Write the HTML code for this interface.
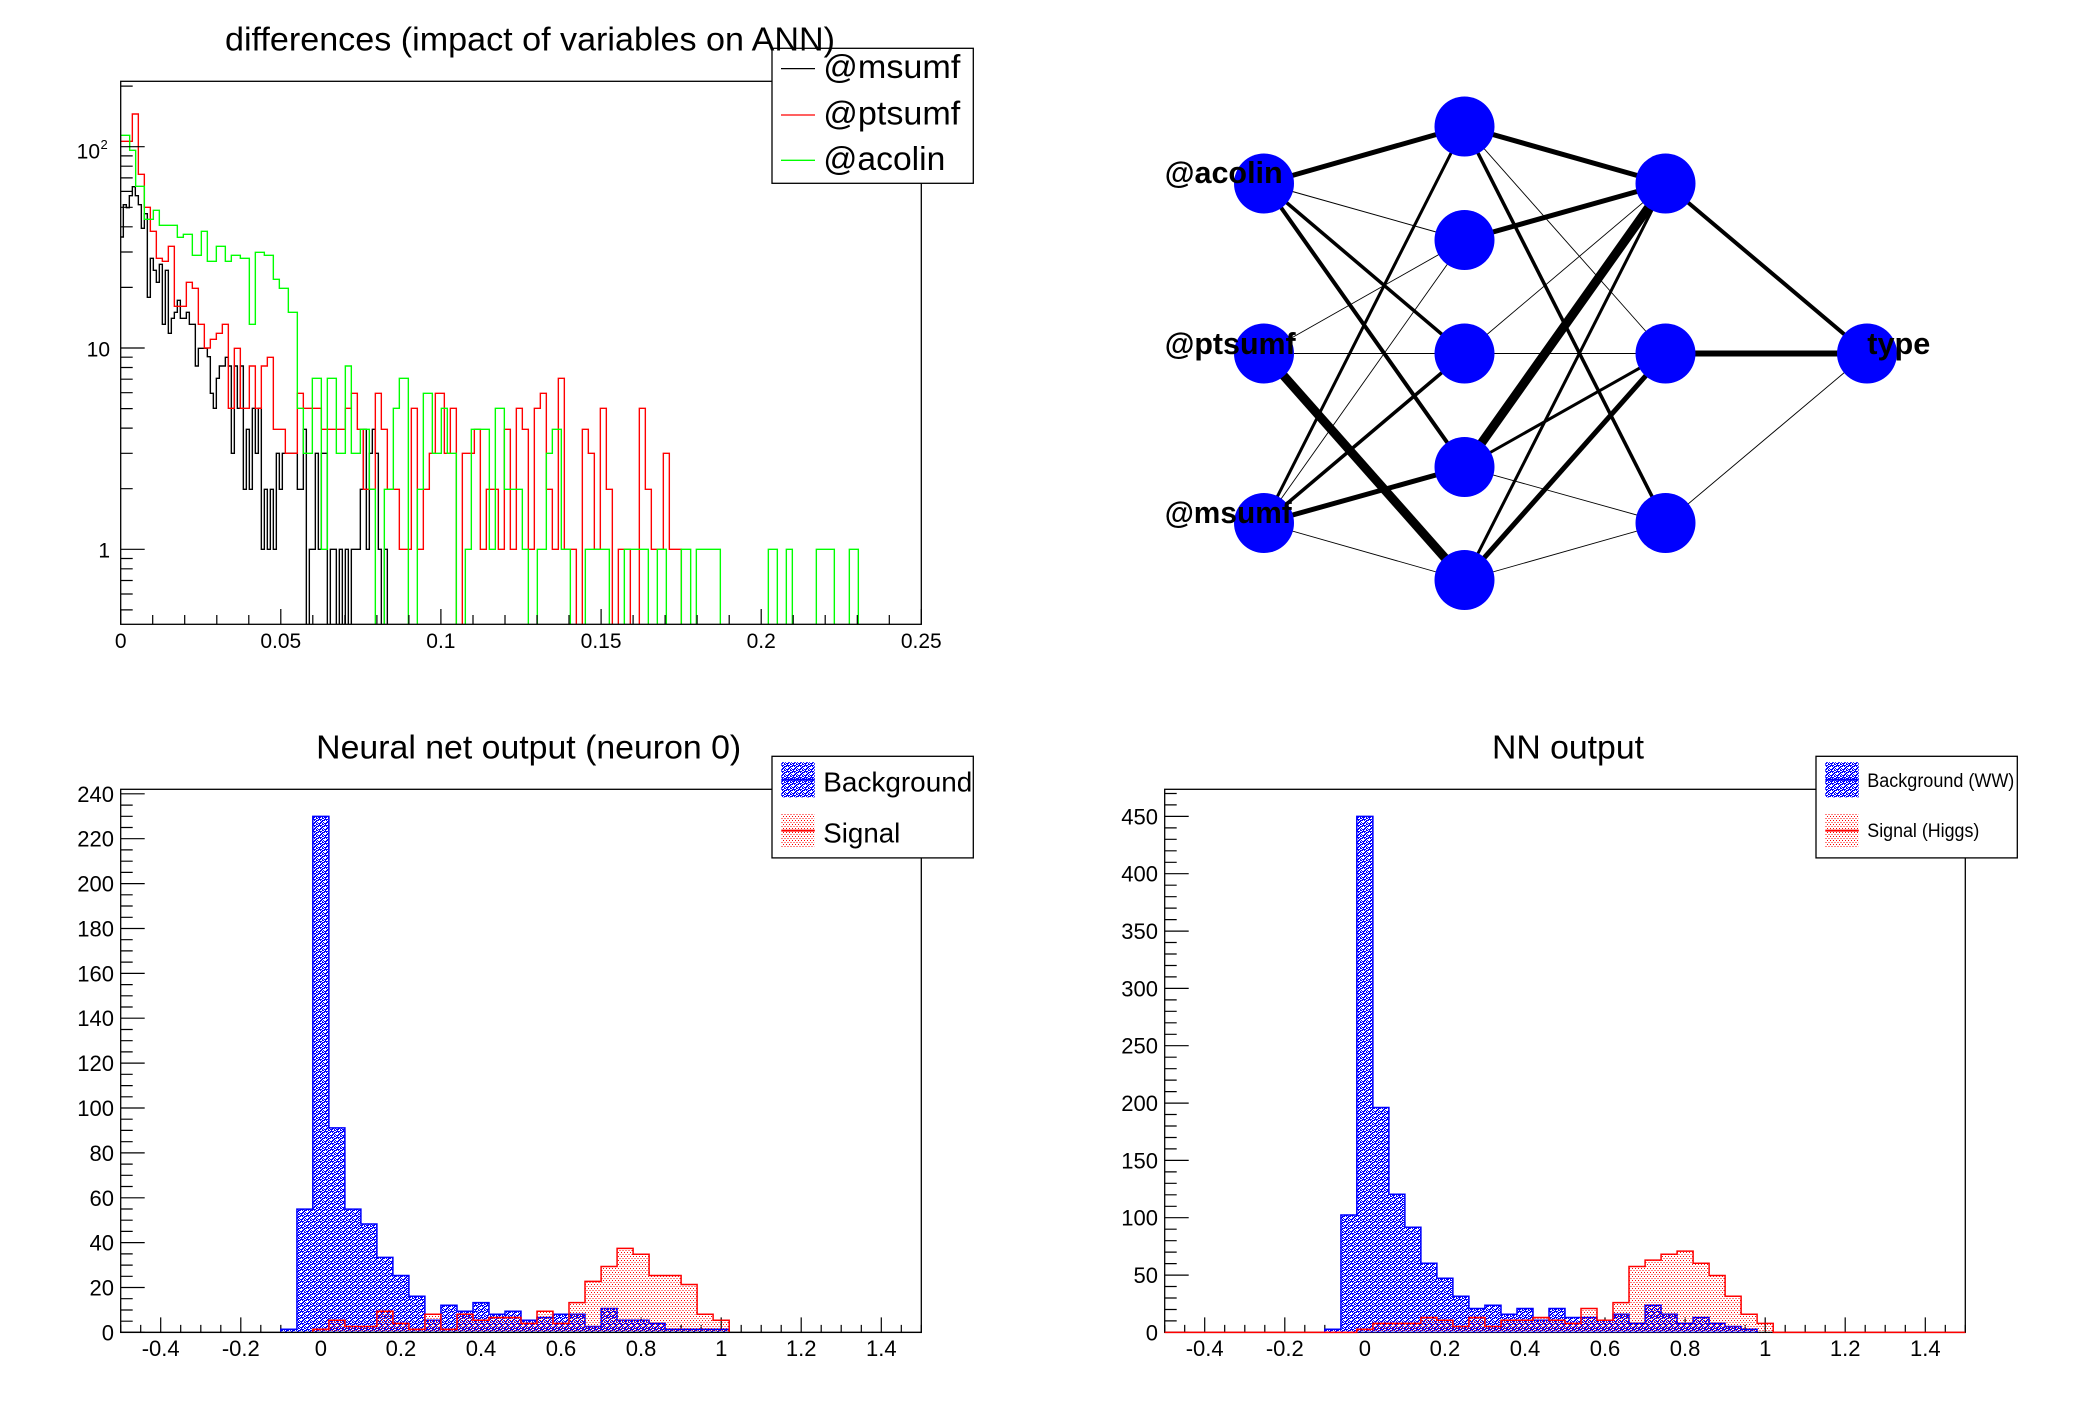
<!DOCTYPE html>
<html><head><meta charset="utf-8"><style>html,body{margin:0;padding:0;background:#fff}svg{display:block}</style></head>
<body>
<svg width="2088" height="1416" viewBox="0 0 2088 1416" xmlns="http://www.w3.org/2000/svg" font-family="'Liberation Sans', Arial, sans-serif">
<defs>
<pattern id="pb" width="6" height="6" patternUnits="userSpaceOnUse">
<rect width="6" height="6" fill="#0000ff"/>
<path d="M0,0h2v1h-2z M3,1h1v2h-1z M4,3h2v1h-2z M1,4h1v2h-1z M2,2h1v1h-1z M5,5h1v1h-1z M0,2h1v1h-1z M2,5h1v1h-1z M4,0h1v1h-1z M5,1h1v1h-1z M0,5h1v1h-1z M3,4h1v1h-1z" fill="#fff"/>
</pattern>
<pattern id="pr" width="6" height="4" patternUnits="userSpaceOnUse">
<path d="M0,0h1v1h-1z M3,0h1v1h-1z M1.5,2h1v1h-1z M4.5,2h1v1h-1z" fill="#ff0000"/>
</pattern>
<clipPath id="c1"><rect x="120.7" y="81.3" width="800.6" height="543"/></clipPath>
<clipPath id="c2"><rect x="120.7" y="789.3" width="800.6" height="543.1"/></clipPath>
<clipPath id="c3"><rect x="1164.7" y="789.3" width="800.6" height="543.1"/></clipPath>
</defs>
<rect width="2088" height="1416" fill="#fff"/>

<!-- ============ TOP LEFT ============ -->
<g clip-path="url(#c1)">
<g transform="translate(118,330) scale(0.333333)" fill="none" stroke-width="1.4">
<path vector-effect="non-scaling-stroke" stroke="#000" d="M7,-279H16V-376H25V-367H34V-403H43V-430H52V-403H61V-376H70V-305H79V-349H88V-98H97V-215H106V-179H115V-143H124V-197H133V-17H142V-179H151V10H160V-35H169V-53H178V-89H187V-35H205V-53H214V-17H232V108H241V55H268V80H277V190H286V235H295V145H304V108H322V82H331V108H340V370H349V108H358V235H367V108H376V478H385V298H394V478H403V235H412V370H421V235H430V658H439V478H448V658H457V478H466V658H475V370H484V478H493V370H538V478H556V298H565V895H574V658H592V370H601V658H610V370H628V895H637V658H655V895H664V658H673V895H682V658H691V895H700V658H727V478H736V298H745V658H754V370H763V298H772V370H781V658H790V895H799V658H808V895H2420"/>
<path vector-effect="non-scaling-stroke" stroke="#ff0000" d="M7,-566H43V-648H61V-467H79V-368H97V-296H115V-215H133V-206H151V-251H169V-71H205V-143H223V-125H241V-17H259V54H277V28H295V10H313V-17H331V235H349V55H367V235H394V108H412V235H430V108H448V82H466V298H502V370H538V190H556V235H610V298H682V235H700V190H718V298H736V478H772V190H790V298H808V478H844V658H880V235H898V658H916V478H934V370H952V190H979V370H997V235H1015V895H1033V370H1069V298H1087V658H1105V478H1141V658H1159V298H1177V658H1195V235H1213V298H1231V658H1249V235H1267V190H1285V478H1303V658H1321V145H1339V658H1375V895H1393V298H1411V370H1429V658H1447V235H1465V478H1483V895H1501V658H1537V895H1564V235H1582V478H1600V658H1636V370H1654V658H1690V895H2420"/>
<path vector-effect="non-scaling-stroke" stroke="#00ff00" d="M7,-584H35V-539H53V-431H79V-332H106V-359H124V-314H178V-278H196V-287H223V-224H250V-296H268V-206H295V-251H322V-206H340V-224H367V-215H394V-17H412V-233H439V-224H466V-152H484V-125H511V-53H538V235H556V370H583V145H610V658H628V145H655V370H682V108H700V370H727V298H754V478H772V895H799V478H826V235H844V145H871V895H898V478H916V190H943V370H970V235H988V370H1015V895H1042V658H1060V298H1114V658H1132V235H1159V478H1213V658H1231V895H1258V658H1285V370H1303V298H1330V658H1357V895H1402V658H1474V895H1519V658H1591V895H1618V658H1645V895H1690V658H1718V895H1735V658H1807V895H1951V658H1978V895H2005V658H2023V895H2095V658H2149V895H2194V658H2221V895H2420"/>
</g>
</g>
<rect x="120.7" y="81.3" width="800.6" height="543" fill="none" stroke="#000" stroke-width="1.3"/>
<path fill="none" stroke="#000" stroke-width="1.2" d="M120.7,624.3v-15.3M152.7,624.3v-9.3M184.7,624.3v-9.3M216.8,624.3v-9.3M248.8,624.3v-9.3M280.8,624.3v-15.3M312.8,624.3v-9.3M344.9,624.3v-9.3M376.9,624.3v-9.3M408.9,624.3v-9.3M440.9,624.3v-15.3M473,624.3v-9.3M505,624.3v-9.3M537,624.3v-9.3M569,624.3v-9.3M601.1,624.3v-15.3M633.1,624.3v-9.3M665.1,624.3v-9.3M697.1,624.3v-9.3M729.2,624.3v-9.3M761.2,624.3v-15.3M793.2,624.3v-9.3M825.2,624.3v-9.3M857.3,624.3v-9.3M889.3,624.3v-9.3M921.3,624.3v-15.3
M120.7,609.9h12M120.7,594h12M120.7,580.5h12M120.7,568.8h12M120.7,558.5h12M120.7,549.3h24M120.7,488.7h12M120.7,453.3h12M120.7,428.1h12M120.7,408.6h12M120.7,392.7h12M120.7,379.2h12M120.7,367.5h12M120.7,357.2h12M120.7,348h24M120.7,287.4h12M120.7,252h12M120.7,226.8h12M120.7,207.3h12M120.7,191.4h12M120.7,177.9h12M120.7,166.2h12M120.7,155.9h12M120.7,146.7h24M120.7,86.1h12"/>
<g font-size="21" fill="#000" text-anchor="middle">
<text x="120.7" y="648">0</text>
<text x="280.8" y="648">0.05</text>
<text x="440.9" y="648">0.1</text>
<text x="601.1" y="648">0.15</text>
<text x="761.2" y="648">0.2</text>
<text x="921.3" y="648">0.25</text>
</g>
<g font-size="21" fill="#000" text-anchor="end">
<text x="100" y="158.5">10</text>
<text x="110" y="356.7">10</text>
<text x="110" y="557.6">1</text>
</g>
<text x="100.5" y="149" font-size="13" fill="#000">2</text>
<!-- legend TL -->
<rect x="772" y="48.3" width="201.3" height="135" fill="#fff" stroke="#000" stroke-width="1.3"/>
<path d="M781,68.6h34" stroke="#000" stroke-width="1.3"/>
<path d="M781,115h34" stroke="#ff0000" stroke-width="1.3"/>
<path d="M781,160.3h34" stroke="#00ff00" stroke-width="1.3"/>
<g font-size="33" fill="#000">
<text x="823.3" y="78" textLength="137" lengthAdjust="spacingAndGlyphs">@msumf</text>
<text x="823.3" y="124.5" textLength="137" lengthAdjust="spacingAndGlyphs">@ptsumf</text>
<text x="823.3" y="169.8" textLength="122" lengthAdjust="spacingAndGlyphs">@acolin</text>
</g>
<text x="530" y="50.5" font-size="33" fill="#000" text-anchor="middle" textLength="610" lengthAdjust="spacingAndGlyphs">differences (impact of variables on ANN)</text>

<!-- ============ TOP RIGHT (NN) ============ -->
<g stroke="#000" stroke-linecap="butt">
<line x1="1264" y1="183.5" x2="1464.5" y2="126.5" stroke-width="5"/>
<line x1="1264" y1="183.5" x2="1464.5" y2="240" stroke-width="1"/>
<line x1="1264" y1="183.5" x2="1464.5" y2="353.5" stroke-width="3.5"/>
<line x1="1264" y1="183.5" x2="1464.5" y2="467" stroke-width="4"/>
<line x1="1264" y1="353.5" x2="1464.5" y2="240" stroke-width="0.9"/>
<line x1="1264" y1="353.5" x2="1464.5" y2="353.5" stroke-width="0.9"/>
<line x1="1264" y1="353.5" x2="1464.5" y2="580" stroke-width="9"/>
<line x1="1264" y1="523" x2="1464.5" y2="126.5" stroke-width="3"/>
<line x1="1264" y1="523" x2="1464.5" y2="240" stroke-width="0.9"/>
<line x1="1264" y1="523" x2="1464.5" y2="353.5" stroke-width="3.5"/>
<line x1="1264" y1="523" x2="1464.5" y2="467" stroke-width="5"/>
<line x1="1264" y1="523" x2="1464.5" y2="580" stroke-width="0.9"/>
<line x1="1464.5" y1="126.5" x2="1665.5" y2="183.5" stroke-width="5"/>
<line x1="1464.5" y1="126.5" x2="1665.5" y2="353.5" stroke-width="0.9"/>
<line x1="1464.5" y1="126.5" x2="1665.5" y2="523" stroke-width="3.5"/>
<line x1="1464.5" y1="240" x2="1665.5" y2="183.5" stroke-width="5"/>
<line x1="1464.5" y1="353.5" x2="1665.5" y2="183.5" stroke-width="0.9"/>
<line x1="1464.5" y1="353.5" x2="1665.5" y2="353.5" stroke-width="0.9"/>
<line x1="1464.5" y1="467" x2="1665.5" y2="183.5" stroke-width="9"/>
<line x1="1464.5" y1="467" x2="1665.5" y2="353.5" stroke-width="3"/>
<line x1="1464.5" y1="467" x2="1665.5" y2="523" stroke-width="0.9"/>
<line x1="1464.5" y1="580" x2="1665.5" y2="183.5" stroke-width="3"/>
<line x1="1464.5" y1="580" x2="1665.5" y2="353.5" stroke-width="5"/>
<line x1="1464.5" y1="580" x2="1665.5" y2="523" stroke-width="0.9"/>
<line x1="1665.5" y1="183.5" x2="1867" y2="353.5" stroke-width="4"/>
<line x1="1665.5" y1="353.5" x2="1867" y2="353.5" stroke-width="6"/>
<line x1="1665.5" y1="523" x2="1867" y2="353.5" stroke-width="0.9"/>
</g>
<g fill="#0000ff">
<circle cx="1264" cy="183.5" r="30"/>
<circle cx="1264" cy="353.5" r="30"/>
<circle cx="1264" cy="523" r="30"/>
<circle cx="1464.5" cy="126.5" r="30"/>
<circle cx="1464.5" cy="240" r="30"/>
<circle cx="1464.5" cy="353.5" r="30"/>
<circle cx="1464.5" cy="467" r="30"/>
<circle cx="1464.5" cy="580" r="30"/>
<circle cx="1665.5" cy="183.5" r="30"/>
<circle cx="1665.5" cy="353.5" r="30"/>
<circle cx="1665.5" cy="523" r="30"/>
<circle cx="1867" cy="353.5" r="30"/>
</g>
<g font-size="30.5" font-weight="bold" fill="#000">
<text x="1164.7" y="183" textLength="118" lengthAdjust="spacingAndGlyphs">@acolin</text>
<text x="1164.7" y="354" textLength="131" lengthAdjust="spacingAndGlyphs">@ptsumf</text>
<text x="1164.7" y="523" textLength="127" lengthAdjust="spacingAndGlyphs">@msumf</text>
<text x="1867.3" y="354" textLength="63" lengthAdjust="spacingAndGlyphs">type</text>
</g>

<!-- ============ BOTTOM LEFT ============ -->
<rect x="120.7" y="789.3" width="800.6" height="543.1" fill="none" stroke="#000" stroke-width="1.3"/>
<g id="xt">
<path fill="none" stroke="#000" stroke-width="1.2" d="M120.7,1332.4v-7.5M140.7,1332.4v-7.5M160.7,1332.4v-15M180.7,1332.4v-7.5M200.8,1332.4v-7.5M220.8,1332.4v-7.5M240.8,1332.4v-15M260.8,1332.4v-7.5M280.8,1332.4v-7.5M300.8,1332.4v-7.5M320.9,1332.4v-15M340.9,1332.4v-7.5M360.9,1332.4v-7.5M380.9,1332.4v-7.5M400.9,1332.4v-15M420.9,1332.4v-7.5M441,1332.4v-7.5M461,1332.4v-7.5M481,1332.4v-15M501,1332.4v-7.5M521,1332.4v-7.5M541,1332.4v-7.5M561,1332.4v-15M581,1332.4v-7.5M601.1,1332.4v-7.5M621.1,1332.4v-7.5M641.1,1332.4v-15M661.1,1332.4v-7.5M681.1,1332.4v-7.5M701.1,1332.4v-7.5M721.2,1332.4v-15M741.2,1332.4v-7.5M761.2,1332.4v-7.5M781.2,1332.4v-7.5M801.2,1332.4v-15M821.2,1332.4v-7.5M841.2,1332.4v-7.5M861.3,1332.4v-7.5M881.3,1332.4v-15M901.3,1332.4v-7.5M921.3,1332.4v-7.5"/>
<g font-size="22" fill="#000" text-anchor="middle">
<text x="160.7" y="1356">-0.4</text>
<text x="240.8" y="1356">-0.2</text>
<text x="320.9" y="1356">0</text>
<text x="400.9" y="1356">0.2</text>
<text x="481" y="1356">0.4</text>
<text x="561" y="1356">0.6</text>
<text x="641.1" y="1356">0.8</text>
<text x="721.2" y="1356">1</text>
<text x="801.2" y="1356">1.2</text>
<text x="881.3" y="1356">1.4</text>
</g>
</g>
<path fill="none" stroke="#000" stroke-width="1.2" d="M120.7,1332.4h24M120.7,1321.2h12M120.7,1310h12M120.7,1298.7h12M120.7,1287.5h24M120.7,1276.3h12M120.7,1265.1h12M120.7,1253.9h12M120.7,1242.6h24M120.7,1231.4h12M120.7,1220.2h12M120.7,1209h12M120.7,1197.8h24M120.7,1186.5h12M120.7,1175.3h12M120.7,1164.1h12M120.7,1152.9h24M120.7,1141.7h12M120.7,1130.4h12M120.7,1119.2h12M120.7,1108h24M120.7,1096.8h12M120.7,1085.6h12M120.7,1074.3h12M120.7,1063.1h24M120.7,1051.9h12M120.7,1040.7h12M120.7,1029.5h12M120.7,1018.2h24M120.7,1007h12M120.7,995.8h12M120.7,984.6h12M120.7,973.4h24M120.7,962.1h12M120.7,950.9h12M120.7,939.7h12M120.7,928.5h24M120.7,917.3h12M120.7,906h12M120.7,894.8h12M120.7,883.6h24M120.7,872.4h12M120.7,861.2h12M120.7,849.9h12M120.7,838.7h24M120.7,827.5h12M120.7,816.3h12M120.7,805.1h12M120.7,793.8h24"/>
<g font-size="22" fill="#000" text-anchor="end">
<text x="114" y="1340.4">0</text>
<text x="114" y="1295.5">20</text>
<text x="114" y="1250.6">40</text>
<text x="114" y="1205.8">60</text>
<text x="114" y="1160.9">80</text>
<text x="114" y="1116">100</text>
<text x="114" y="1071.1">120</text>
<text x="114" y="1026.2">140</text>
<text x="114" y="981.4">160</text>
<text x="114" y="936.5">180</text>
<text x="114" y="891.6">200</text>
<text x="114" y="846.7">220</text>
<text x="114" y="801.8">240</text>
</g>
<g clip-path="url(#c2)">
<path fill="url(#pb)" stroke="#0000ff" stroke-width="1.5" d="M280.8,1332.4V1329.2H296.9V1209.1H312.8V816.4H328.9V1127.9H344.9V1209.1H360.9V1224H376.9V1257.4H392.9V1275.5H408.9V1296.3H424.9V1320.2H440.9V1305.3H457V1311.2H473V1302.6H489V1314.3H505V1311.2H521V1320.2H537V1317.5H553V1314.3H585V1326.5H601.1V1308.5H617.1V1320.2H649.1V1323.4H665.1V1329.2H729.2V1332.4Z"/>
<path fill="url(#pr)" stroke="none" d="M312.8,1332.4V1329.2H328.9V1320.2H344.9V1326.5H376.9V1311.2H392.9V1323.4H408.9V1329.2H424.9V1314.3H440.9V1329.2H457V1314.3H473V1320.2H489V1317.5H521V1323.4H537V1311.2H553V1323.4H569V1302.6H585V1281.4H601.1V1266.5H617.1V1248.4H633.1V1254.3H649.1V1275.5H681.1V1284.5H697.1V1314.3H713.1V1320.2H729.2V1332.4Z"/>
<path fill="none" stroke="#ff0000" stroke-width="1.5" d="M312.8,1332.4V1329.2H328.9V1320.2H344.9V1326.5H376.9V1311.2H392.9V1323.4H408.9V1329.2H424.9V1314.3H440.9V1329.2H457V1314.3H473V1320.2H489V1317.5H521V1323.4H537V1311.2H553V1323.4H569V1302.6H585V1281.4H601.1V1266.5H617.1V1248.4H633.1V1254.3H649.1V1275.5H681.1V1284.5H697.1V1314.3H713.1V1320.2H729.2V1332.4"/>
</g>
<path d="M120.7,1332.4H921.3" stroke="#000" stroke-width="1.3"/>
<!-- legend BL -->
<rect x="772" y="756.3" width="201.3" height="101.6" fill="#fff" stroke="#000" stroke-width="1.3"/>
<rect x="781.3" y="762.2" width="33.4" height="35.2" fill="url(#pb)"/>
<path d="M781.3,779.8h33.4" stroke="#0000ff" stroke-width="2"/>
<rect x="781.3" y="813.2" width="33.4" height="34.8" fill="url(#pr)"/>
<path d="M781.3,830.6h33.4" stroke="#ff0000" stroke-width="2"/>
<g font-size="28" fill="#000">
<text x="823.3" y="791.5" textLength="149" lengthAdjust="spacingAndGlyphs">Background</text>
<text x="823.3" y="842.5" textLength="77" lengthAdjust="spacingAndGlyphs">Signal</text>
</g>
<text x="528.7" y="758.6" font-size="33" fill="#000" text-anchor="middle" textLength="425" lengthAdjust="spacingAndGlyphs">Neural net output (neuron 0)</text>

<!-- ============ BOTTOM RIGHT ============ -->
<rect x="1164.7" y="789.3" width="800.6" height="543.1" fill="none" stroke="#000" stroke-width="1.3"/>
<use href="#xt" x="1044" y="0"/>
<path fill="none" stroke="#000" stroke-width="1.2" d="M1164.7,1332.4h24M1164.7,1320.9h12M1164.7,1309.5h12M1164.7,1298h12M1164.7,1286.5h12M1164.7,1275.1h24M1164.7,1263.6h12M1164.7,1252.1h12M1164.7,1240.7h12M1164.7,1229.2h12M1164.7,1217.7h24M1164.7,1206.3h12M1164.7,1194.8h12M1164.7,1183.3h12M1164.7,1171.9h12M1164.7,1160.4h24M1164.7,1148.9h12M1164.7,1137.5h12M1164.7,1126h12M1164.7,1114.5h12M1164.7,1103.1h24M1164.7,1091.6h12M1164.7,1080.1h12M1164.7,1068.7h12M1164.7,1057.2h12M1164.7,1045.7h24M1164.7,1034.3h12M1164.7,1022.8h12M1164.7,1011.3h12M1164.7,999.9h12M1164.7,988.4h24M1164.7,976.9h12M1164.7,965.5h12M1164.7,954h12M1164.7,942.5h12M1164.7,931.1h24M1164.7,919.6h12M1164.7,908.1h12M1164.7,896.7h12M1164.7,885.2h12M1164.7,873.7h24M1164.7,862.3h12M1164.7,850.8h12M1164.7,839.3h12M1164.7,827.9h12M1164.7,816.4h24M1164.7,804.9h12M1164.7,793.5h12"/>
<g font-size="22" fill="#000" text-anchor="end">
<text x="1158" y="1340.4">0</text>
<text x="1158" y="1283.1">50</text>
<text x="1158" y="1225.7">100</text>
<text x="1158" y="1168.4">150</text>
<text x="1158" y="1111.1">200</text>
<text x="1158" y="1053.7">250</text>
<text x="1158" y="996.4">300</text>
<text x="1158" y="939.1">350</text>
<text x="1158" y="881.7">400</text>
<text x="1158" y="824.4">450</text>
</g>
<g clip-path="url(#c3)">
<path fill="url(#pb)" stroke="#0000ff" stroke-width="1.5" d="M1324.8,1332.4V1329.2H1340.9V1215H1356.8V816.4H1372.9V1107.5H1388.9V1194.2H1404.9V1227.2H1420.9V1263.3H1436.9V1278.2H1452.9V1296.3H1468.9V1308.5H1484.9V1305.3H1501V1314.3H1517V1308.5H1533V1320.2H1549V1308.5H1565V1317.5H1597V1320.2H1613V1314.3H1629V1323.4H1645.1V1305.3H1661.1V1314.3H1677.1V1323.4H1693.1V1317.5H1709.1V1323.4H1725.1V1326.5H1741.1V1329.2H1757.1V1332.4Z"/>
<path fill="url(#pr)" stroke="none" d="M1356.8,1332.4V1329.2H1372.9V1323.4H1420.9V1317.5H1436.9V1320.2H1452.9V1326.5H1468.9V1317.5H1484.9V1326.5H1501V1320.2H1533V1317.5H1549V1320.2H1565V1323.4H1581V1308.5H1597V1320.2H1613V1302.6H1629V1266.5H1645.1V1260.1H1661.1V1254.3H1677.1V1251.1H1693.1V1263.3H1709.1V1275.5H1725.1V1296.3H1741.1V1314.3H1757.1V1323.4H1773.2V1332.4Z"/>
</g>
<path fill="none" stroke="#ff0000" stroke-width="1.5" d="M1164.7,1332.4H1356.8V1329.2H1372.9V1323.4H1420.9V1317.5H1436.9V1320.2H1452.9V1326.5H1468.9V1317.5H1484.9V1326.5H1501V1320.2H1533V1317.5H1549V1320.2H1565V1323.4H1581V1308.5H1597V1320.2H1613V1302.6H1629V1266.5H1645.1V1260.1H1661.1V1254.3H1677.1V1251.1H1693.1V1263.3H1709.1V1275.5H1725.1V1296.3H1741.1V1314.3H1757.1V1323.4H1773.2V1332.4H1965.3"/>
<!-- legend BR -->
<rect x="1816" y="756.3" width="201.3" height="101.6" fill="#fff" stroke="#000" stroke-width="1.3"/>
<rect x="1825.3" y="762.2" width="33.4" height="35.2" fill="url(#pb)"/>
<path d="M1825.3,779.8h33.4" stroke="#0000ff" stroke-width="2"/>
<rect x="1825.3" y="813.2" width="33.4" height="34.8" fill="url(#pr)"/>
<path d="M1825.3,830.6h33.4" stroke="#ff0000" stroke-width="2"/>
<g font-size="19" fill="#000">
<text x="1867.3" y="787" textLength="147" lengthAdjust="spacingAndGlyphs">Background (WW)</text>
<text x="1867.3" y="837" textLength="112" lengthAdjust="spacingAndGlyphs">Signal (Higgs)</text>
</g>
<text x="1568" y="758.6" font-size="33" fill="#000" text-anchor="middle" textLength="152" lengthAdjust="spacingAndGlyphs">NN output</text>
</svg>
</body></html>
